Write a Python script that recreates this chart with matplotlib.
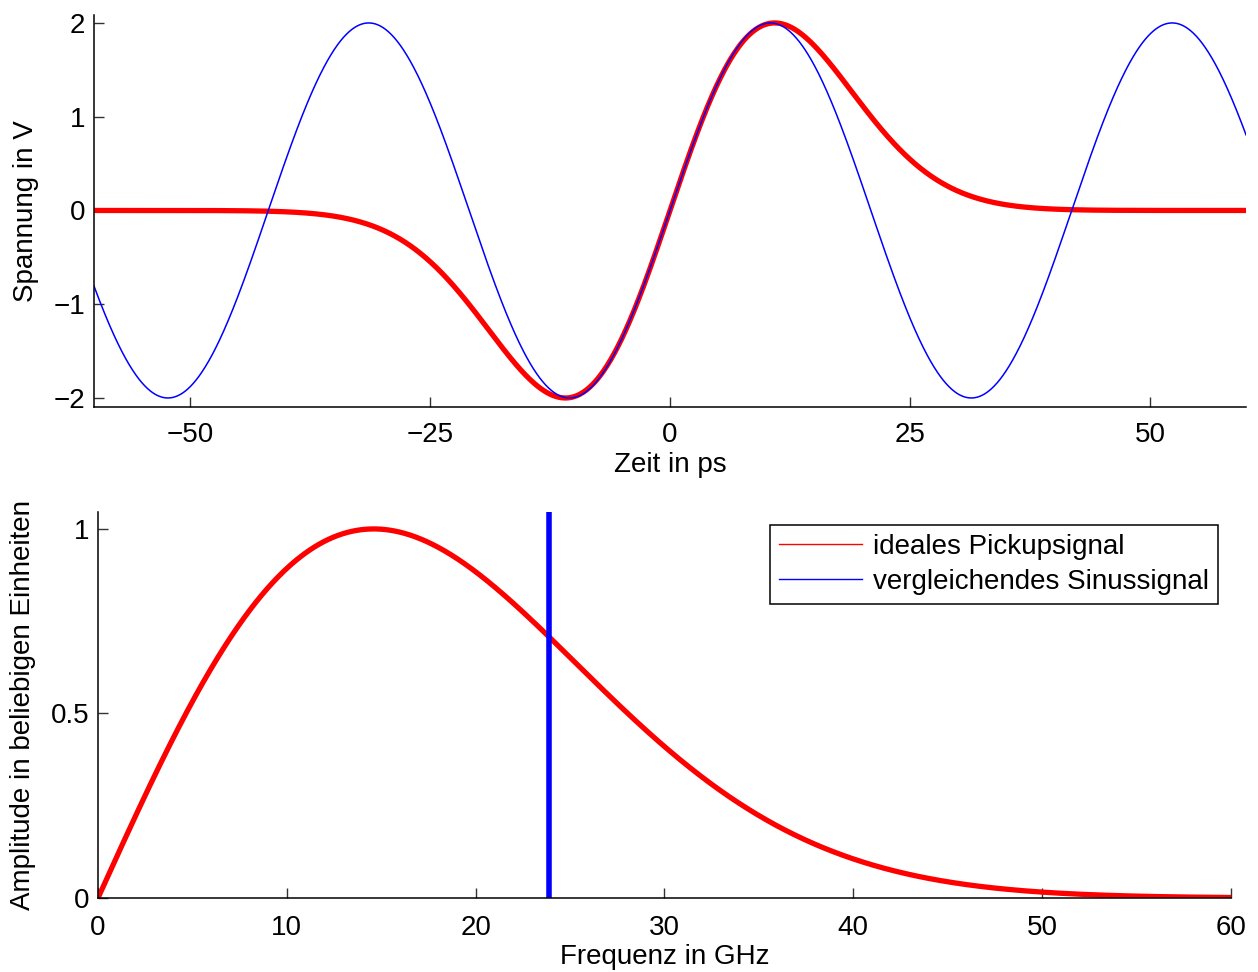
import numpy as np
import matplotlib
matplotlib.use("Agg")
import matplotlib.pyplot as plt
from matplotlib.lines import Line2D

plt.rcParams['font.family'] = ['Liberation Sans', 'DejaVu Sans']

# Pulse model: first derivative of a Gaussian and a comparison sine
pulse_amplitude_V = 2.0
pulse_width_ps = 10.9          # sigma of the Gaussian, position of the extrema
sine_amplitude_V = 2.0
sine_frequency_GHz = 23.9      # -3 dB point of the pulse spectrum

time_limits_ps = [-60, 60]
freq_limits_GHz = [0, 60]
time_ticks = [-50, -25, 0, 25, 50]
volt_ticks = [-2, -1, 0, 1, 2]
freq_ticks = [0, 10, 20, 30, 40, 50, 60]
amp_ticks = [0, 0.5, 1]
amp_tick_labels = ['0', '0.5', '1']
legend_labels = ['ideales Pickupsignal', 'vergleichendes Sinussignal']

t = np.linspace(time_limits_ps[0], time_limits_ps[1], 2001)
x = t / pulse_width_ps
pickup = pulse_amplitude_V * x * np.exp(0.5 * (1.0 - x ** 2))
sine = sine_amplitude_V * np.sin(2 * np.pi * sine_frequency_GHz * 1e-3 * t)

f = np.linspace(freq_limits_GHz[0], freq_limits_GHz[1], 1201)
f_peak = 1e3 / (2 * np.pi * pulse_width_ps)
u = f / f_peak
spectrum = u * np.exp(0.5 * (1.0 - u ** 2))

FS = 20
fig = plt.figure(figsize=(12.58, 9.72), dpi=100)

def style(ax):
    for s in ('top', 'right'):
        ax.spines[s].set_visible(False)
    for s in ('left', 'bottom'):
        ax.spines[s].set_linewidth(1.1)
    ax.tick_params(direction='in', length=7, width=1.0, labelsize=FS,
                   color='#333333')

# Time domain
ax1 = fig.add_axes([0.0747, 0.5813, 0.9158, 0.4033])
ax1.plot(t, pickup, color='#ff0000', lw=3.8, solid_capstyle='butt')
ax1.plot(t, sine, color='#0000ff', lw=1.1)
ax1.set_xlim(time_limits_ps)
ax1.set_ylim(-2.096, 2.085)
ax1.set_xticks(time_ticks)
ax1.set_yticks(volt_ticks)
style(ax1)
ax1.tick_params(axis='x', pad=11)
ax1.tick_params(axis='y', pad=6.5)
ax1.set_xlabel('Zeit in ps', fontsize=FS, labelpad=3)
ax1.set_ylabel('Spannung in V', fontsize=FS, labelpad=10.5)

# Frequency domain
ax2 = fig.add_axes([0.0779, 0.0761, 0.9006, 0.3972])
ax2.plot(f, spectrum, color='#ff0000', lw=3.8)
ax2.axvline(sine_frequency_GHz, color='#0000ff', lw=4.0)
ax2.set_xlim(freq_limits_GHz)
ax2.set_ylim(0, 1.046)
ax2.set_xticks(freq_ticks)
ax2.set_yticks(amp_ticks)
ax2.set_yticklabels(amp_tick_labels)
style(ax2)
ax2.tick_params(axis='x', pad=12)
ax2.tick_params(axis='y', pad=6)
ax2.set_xlabel('Frequenz in GHz', fontsize=FS, labelpad=2.5)
ax2.set_ylabel('Amplitude in beliebigen Einheiten', fontsize=FS, labelpad=10.5)

handles = [Line2D([], [], color='#ff0000', lw=1.0),
           Line2D([], [], color='#0000ff', lw=1.0)]
leg = ax2.legend(handles, legend_labels, loc='upper right', fontsize=FS,
                 fancybox=False, framealpha=1, edgecolor='black',
                 handlelength=3.0, handletextpad=0.38, labelspacing=0.3,
                 borderpad=0.33, borderaxespad=0.47)
leg.get_frame().set_linewidth(1.1)

fig.savefig('out.png', dpi=100)
